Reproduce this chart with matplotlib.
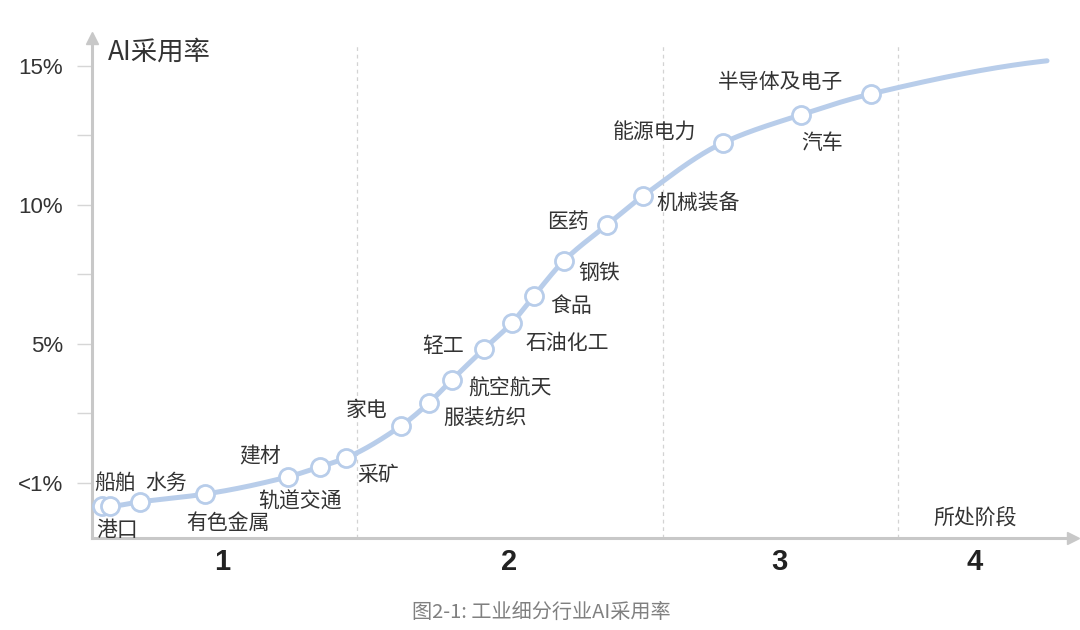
import numpy as np
import matplotlib
matplotlib.use("Agg")
import matplotlib.pyplot as plt

plt.rcParams['font.family'] = ['Noto Sans CJK SC', 'DejaVu Sans']

# ---- data ----
industries = ['船舶', '港口', '水务', '有色金属', '建材', '轨道交通', '采矿', '家电',
              '服装纺织', '航空航天', '轻工', '石油化工', '食品', '钢铁', '医药',
              '机械装备', '能源电力', '汽车', '半导体及电子']
stage_pos = [1.02, 1.83, 4.89, 11.52, 19.98, 23.24, 25.89, 31.50,
             34.35, 36.70, 39.96, 42.81, 45.06, 48.11, 52.50,
             56.17, 64.32, 72.27, 79.41]
adoption = [-0.83, -0.83, -0.68, -0.40, 0.22, 0.58, 0.90, 2.05,
            2.88, 3.71, 4.82, 5.76, 6.73, 7.99, 9.28,
            10.32, 12.23, 13.24, 13.99]
trend_end_x = [97.35]
trend_end_y = [15.18]
stage_dividers = [27.01, 58.21, 82.16]
stage_labels = ['1', '2', '3', '4']
stage_label_pos = [13.25, 42.51, 70.03, 90.01]
y_ticks = [0, 5, 10, 15]
y_tick_labels = ['<1%', '5%', '10%', '15%']
y_minor = [2.5, 7.5, 12.5]

# label offsets (pixels) relative to each point
label_offsets = [(13, 23), (7, -24), (26, 19), (23, -29), (-28, 20), (-20, -35),
                 (32, -17), (-34, 16), (56, -16), (58, -9), (-41, 3), (55, -20),
                 (37, -10), (35, -12), (-39, 3), (55, -7), (-68, 10), (21, -28),
                 (-90, 12)]


def pchip(x, y, xs):
    x = np.asarray(x, float); y = np.asarray(y, float)
    h = np.diff(x); d = np.diff(y) / h
    n = len(x)
    m = np.zeros(n)
    for k in range(1, n - 1):
        if d[k - 1] * d[k] <= 0:
            m[k] = 0.0
        else:
            w1 = 2 * h[k] + h[k - 1]
            w2 = h[k] + 2 * h[k - 1]
            m[k] = (w1 + w2) / (w1 / d[k - 1] + w2 / d[k])

    def endslope(h0, h1, d0, d1):
        s = ((2 * h0 + h1) * d0 - h0 * d1) / (h0 + h1)
        if np.sign(s) != np.sign(d0):
            s = 0.0
        elif np.sign(d0) != np.sign(d1) and abs(s) > abs(3 * d0):
            s = 3 * d0
        return s
    m[0] = endslope(h[0], h[1], d[0], d[1])
    m[-1] = endslope(h[-1], h[-2], d[-1], d[-2])
    idx = np.clip(np.searchsorted(x, xs) - 1, 0, n - 2)
    t = (xs - x[idx]) / h[idx]
    h00 = 2 * t**3 - 3 * t**2 + 1
    h10 = t**3 - 2 * t**2 + t
    h01 = -2 * t**3 + 3 * t**2
    h11 = t**3 - t**2
    return h00 * y[idx] + h10 * h[idx] * m[idx] + h01 * y[idx + 1] + h11 * h[idx] * m[idx + 1]


fig = plt.figure(figsize=(10.8, 6.3), dpi=100)
ax = fig.add_axes([92 / 1080, 1 - 538 / 630, (1073 - 92) / 1080, 500 / 630])
ymin, ymax = -1.98, 16.0
ax.set_xlim(0, 100)
ax.set_ylim(ymin, ymax)
px_per_unit = 27.8

axis_col = '#c8c8c8'
line_col = '#b8cdea'
text_col = '#333333'

for s in ['top', 'right']:
    ax.spines[s].set_visible(False)
for s in ['left', 'bottom']:
    ax.spines[s].set_color(axis_col)
    ax.spines[s].set_linewidth(2.2)
ax.plot([1], [0], marker='>', ms=9, color=axis_col, transform=ax.transAxes, clip_on=False)
ax.plot([0], [1], marker='^', ms=9, color=axis_col, transform=ax.transAxes, clip_on=False)

ax.set_xticks([])
ax.set_yticks(y_ticks)
ax.set_yticklabels(y_tick_labels, family=['Liberation Sans', 'DejaVu Sans'])
ax.set_yticks(y_minor, minor=True)
ax.tick_params(axis='y', which='both', length=11, width=1, color='#d6d6d6',
               labelsize=16, labelcolor=text_col, pad=10)

for xd in stage_dividers:
    ax.plot([xd, xd], [ymin, 15.76], color='#d3d3d3', lw=0.9, ls=(0, (3, 3)), zorder=1)

xs_all = list(stage_pos) + trend_end_x
ys_all = list(adoption) + trend_end_y
xx = np.linspace(xs_all[0], xs_all[-1], 600)
yy = pchip(xs_all, ys_all, xx)
ax.plot(xx, yy, color=line_col, lw=3.6, solid_capstyle='round', zorder=2)
ax.plot(stage_pos, adoption, 'o', ms=13, mfc='white', mec=line_col, mew=2.0, zorder=3,
        clip_on=False)

for name, x, y, (dx, dy) in zip(industries, stage_pos, adoption, label_offsets):
    ax.annotate(name, (x, y), xytext=(dx, dy), textcoords='offset pixels',
                ha='center', va='center', fontsize=15, color=text_col, zorder=4)

for lab, xp in zip(stage_labels, stage_label_pos):
    ax.text(xp, ymin - 24 / px_per_unit, lab, ha='center', va='center',
            fontsize=21, fontweight='bold', color='#222222',
            family=['Liberation Sans', 'DejaVu Sans'])

ax.text(stage_label_pos[-1], ymin + 19 / px_per_unit, '所处阶段', ha='center', va='center',
        fontsize=15, color=text_col)
fig.text(108 / 1080, 1 - 52 / 630, 'AI采用率', ha='left', va='center', fontsize=19,
         color=text_col)
fig.text(541 / 1080, 1 - 612 / 630, '图2-1: 工业细分行业AI采用率', ha='center', va='center',
         fontsize=14.5, color='#808080')

fig.savefig('out.png', dpi=100)
